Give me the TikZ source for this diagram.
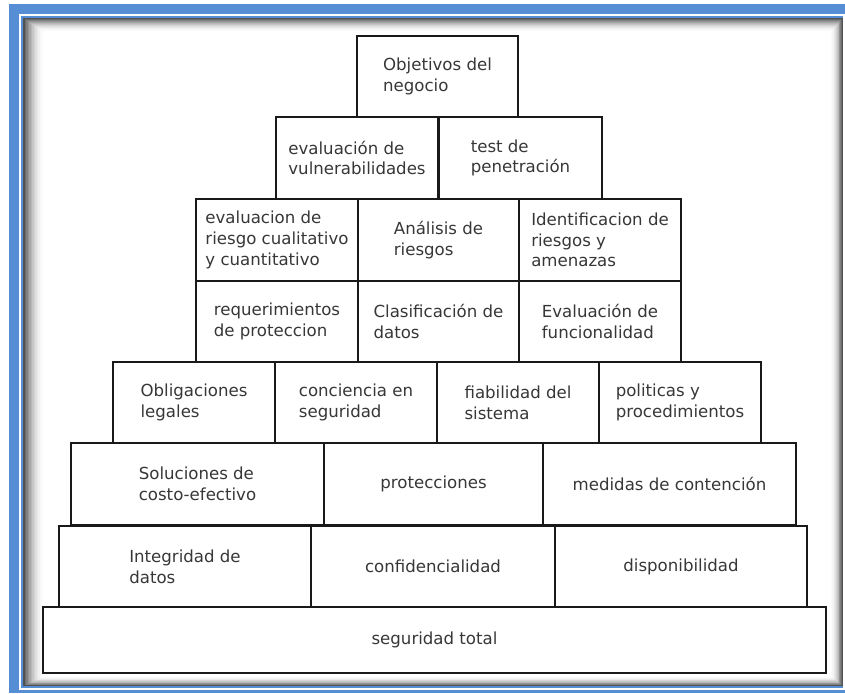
\documentclass[tikz,border=0pt]{standalone}
\usepackage{fontspec}
\setmainfont{DejaVu Sans}
\definecolor{marco}{RGB}{85,142,213}
\definecolor{texto}{RGB}{55,55,55}
\tikzset{
  bloque/.style={draw=black!90, line width=1.6pt, fill=white, text=texto,
    align=left, inner sep=0pt, font=\fontsize{16.6}{20.7}\selectfont},
}

\begin{document}
\begin{tikzpicture}[x=1pt,y=-1pt]
  \useasboundingbox (0,0) rectangle (845,693);
  \fill[white] (0,0) rectangle (845,693);

  % marco azul
  \fill[marco] (9,4) rectangle (845,693);
  \fill[white] (19,14) rectangle (845,690);
  \fill[marco] (21,16) rectangle (843,688);
  % sombra interior
  \foreach \i [evaluate=\i as \g using 68*(1-\i/14)^2] in {0,...,14}
    \fill[black!\g] (23+1.5*\i,18+1.0*\i) rectangle (843-0.9*\i,686-0.7*\i);

  % fila 1
  \node[bloque, minimum width=161pt, minimum height=81pt] (objetivos) at (437.5,76.5) {Objetivos del\\negocio};

  % fila 2
  \node[bloque, minimum width=162pt, minimum height=82pt] (vulnerab) at (357,158) {evaluación de\\vulnerabilidades};
  \node[bloque, minimum width=163pt, minimum height=82pt] (penetracion) at (520.5,158) {test de\\penetración};

  % fila 3
  \node[bloque, minimum width=162pt, minimum height=82pt] (riesgocc) at (277,240) {evaluacion de\\riesgo cualitativo\\y cuantitativo};
  \node[bloque, minimum width=161pt, minimum height=82pt] (analisis) at (438.5,240) {Análisis de\\riesgos};
  \node[bloque, minimum width=162pt, minimum height=82pt] (identif) at (600,240) {Identificacion de\\riesgos y\\amenazas};

  % fila 4
  \node[bloque, minimum width=162pt, minimum height=81pt] (requerim) at (277,321.5) {requerimientos\\de proteccion};
  \node[bloque, minimum width=161pt, minimum height=81pt] (clasif) at (438.5,321.5) {Clasificación de\\datos};
  \node[bloque, minimum width=162pt, minimum height=81pt] (funcional) at (600,321.5) {Evaluación de\\funcionalidad};

  % fila 5
  \node[bloque, minimum width=162pt, minimum height=81pt] (obligac) at (194,402.5) {Obligaciones\\legales};
  \node[bloque, minimum width=162pt, minimum height=81pt] (conciencia) at (356,402.5) {conciencia en\\seguridad};
  \node[bloque, minimum width=162pt, minimum height=81pt] (fiabilidad) at (518,402.5) {fiabilidad del\\sistema};
  \node[bloque, minimum width=162pt, minimum height=81pt] (politicas) at (680,402.5) {politicas y\\procedimientos};

  % fila 6
  \node[bloque, minimum width=253pt, minimum height=82pt] (soluciones) at (197.5,484) {Soluciones de\\costo-efectivo};
  \node[bloque, minimum width=219pt, minimum height=82pt] (protecc) at (433.5,484) {protecciones};
  \node[bloque, minimum width=253pt, minimum height=82pt] (medidas) at (669.5,484) {medidas de contención};

  % fila 7
  \node[bloque, minimum width=252pt, minimum height=81pt] (integridad) at (185,566.5) {Integridad de\\datos};
  \node[bloque, minimum width=244pt, minimum height=81pt] (confid) at (433,566.5) {confidencialidad};
  \node[bloque, minimum width=252pt, minimum height=81pt] (disponib) at (681,566.5) {disponibilidad};

  % base
  \node[bloque, minimum width=783pt, minimum height=66pt] (seguridad) at (434.5,640) {seguridad total};
\end{tikzpicture}
\end{document}
